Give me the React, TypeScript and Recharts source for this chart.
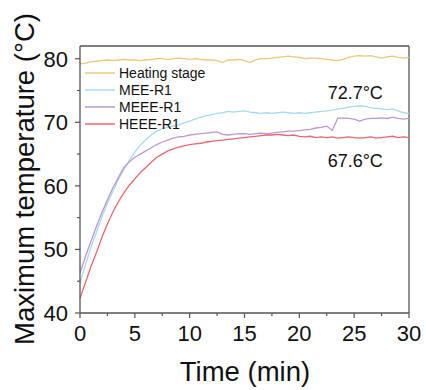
import React from 'react';
import { LineChart, Line, XAxis, YAxis, Legend, ReferenceLine, ReferenceDot } from 'recharts';

document.body.style.margin = '0';

const FONT = "Arial, 'Liberation Sans', sans-serif";

// time in minutes, one sample every half minute
const time = [
  0, 0.5, 1, 1.5, 2, 2.5, 3, 3.5, 4, 4.5, 5, 5.5, 6, 6.5, 7, 7.5, 8, 8.5, 9, 9.5,
  10, 10.5, 11, 11.5, 12, 12.5, 13, 13.5, 14, 14.5, 15, 15.5, 16, 16.5, 17, 17.5, 18, 18.5, 19, 19.5,
  20, 20.5, 21, 21.5, 22, 22.5, 23, 23.5, 24, 24.5, 25, 25.5, 26, 26.5, 27, 27.5, 28, 28.5, 29, 29.5, 30,
];

const heatingStage = [
  79.2, 79.3, 79.5, 79.6, 79.7, 79.8, 79.7, 79.8, 79.9, 79.8, 79.8, 79.7, 79.8, 79.9, 80.0, 80.0, 79.9, 80.0, 80.1, 80.0,
  79.9, 80.0, 79.9, 79.8, 79.8, 79.7, 79.4, 79.8, 79.8, 79.9, 79.7, 79.4, 79.8, 80.0, 80.0, 80.1, 80.2, 80.3, 80.4, 80.3,
  80.2, 80.0, 80.1, 80.1, 80.0, 79.9, 79.8, 79.7, 79.9, 80.2, 80.4, 80.5, 80.4, 80.5, 80.3, 80.1, 80.3, 80.4, 80.2, 80.1, 80.2,
];

const meeR1 = [
  44.7, 47.6, 50.3, 52.7, 55.1, 57.3, 59.1, 61.0, 62.6, 64.0, 65.3, 66.4, 67.3, 68.0, 68.6, 69.0, 69.2, 69.4, 69.6, 69.9,
  70.2, 70.5, 70.8, 71.0, 71.2, 71.4, 71.5, 71.7, 71.6, 71.7, 71.8, 71.6, 71.5, 71.4, 71.5, 71.4, 71.5, 71.6, 71.5, 71.4,
  71.5, 71.4, 71.5, 71.6, 71.7, 71.8, 71.9, 72.1, 72.2, 72.4, 72.5, 72.6, 72.5, 72.3, 72.2, 72.1, 72.0, 72.1, 71.8, 71.5, 71.4,
];

const meeeR1 = [
  46.3, 48.9, 51.3, 53.6, 55.8, 57.8, 59.7, 61.3, 62.9, 63.8, 64.5, 65.0, 65.5, 66.0, 66.5, 66.9, 67.2, 67.5, 67.7, 67.8,
  68.0, 68.1, 68.2, 68.3, 68.4, 68.5, 68.1, 68.0, 68.1, 68.2, 68.2, 68.1, 68.2, 68.3, 68.2, 68.3, 68.4, 68.5, 68.6, 68.6,
  68.7, 68.8, 68.9, 69.1, 69.2, 69.4, 68.7, 70.6, 70.7, 70.6, 70.5, 70.2, 70.5, 70.6, 70.6, 70.7, 70.6, 70.8, 70.6, 70.5, 70.6,
];

const heeeR1 = [
  42.3, 44.8, 47.3, 49.5, 51.9, 54.0, 55.9, 57.5, 58.9, 60.1, 61.1, 62.1, 62.9, 63.7, 64.5, 65.0, 65.5, 65.8, 66.1, 66.3,
  66.5, 66.6, 66.7, 66.9, 67.0, 67.1, 67.2, 67.3, 67.4, 67.5, 67.6, 67.7, 67.8, 67.9, 68.0, 68.0, 68.1, 68.0, 67.9, 68.0,
  67.8, 67.7, 67.8, 67.6, 67.7, 67.6, 67.7, 67.5, 67.6, 67.7, 67.6, 67.5, 67.6, 67.7, 67.5, 67.6, 67.7, 67.8, 67.6, 67.7, 67.6,
];

const xTicks = [0, 2.5, 5, 7.5, 10, 12.5, 15, 17.5, 20, 22.5, 25, 27.5, 30];
const yTicks = [40, 45, 50, 55, 60, 65, 70, 75, 80];

const series = [
  { key: 'heating', name: 'Heating stage', color: '#EFC879' },
  { key: 'mee', name: 'MEE-R1', color: '#A8DAF0' },
  { key: 'meee', name: 'MEEE-R1', color: '#BC98D2' },
  { key: 'heee', name: 'HEEE-R1', color: '#E8676C' },
];

const data = time.map((t, i) => ({
  t,
  heating: heatingStage[i],
  mee: meeR1[i],
  meee: meeeR1[i],
  heee: heeeR1[i],
}));

const AXIS_COLOR = '#555';
const TICK_SIZE = 5;
const TICK_MARGIN = 7;

const XTick = ({ x, y, payload }: any) => {
  const major = payload.value % 5 === 0;
  const y0 = y - TICK_SIZE - TICK_MARGIN;
  return (
    <g>
      <line x1={x} x2={x} y1={y0} y2={y0 + (major ? 5 : 3)} stroke={AXIS_COLOR} strokeWidth={1.2} />
      {major && (
        <text x={x} y={y} dy="0.72em" textAnchor="middle" fontSize={22} fontFamily={FONT} fill="#111">
          {payload.value}
        </text>
      )}
    </g>
  );
};

const YTick = ({ x, y, payload }: any) => {
  const major = payload.value % 10 === 0;
  const x0 = x + TICK_SIZE + TICK_MARGIN;
  return (
    <g>
      <line x1={x0} x2={x0 - (major ? 5 : 3)} y1={y} y2={y} stroke={AXIS_COLOR} strokeWidth={1.2} />
      {major && (
        <text x={x} y={y} dy="0.36em" textAnchor="end" fontSize={22} fontFamily={FONT} fill="#111">
          {payload.value}
        </text>
      )}
    </g>
  );
};

const renderLegend = () => (
  <div style={{ fontFamily: FONT, fontSize: 14, color: '#111' }}>
    {series.map(s => (
      <div key={s.key} style={{ display: 'flex', alignItems: 'center', height: 17 }}>
        <svg width={34} height={4} style={{ marginRight: 1 }}>
          <line x1={1} x2={31} y1={2} y2={2} stroke={s.color} strokeWidth={1.5} />
        </svg>
        <span>{s.name}</span>
      </div>
    ))}
  </div>
);

export default function App() {
  return (
    <LineChart width={426} height={390} data={data} margin={{ top: 46, right: 17, left: 0, bottom: 0 }}>
      <XAxis
        dataKey="t"
        type="number"
        domain={[0, 30]}
        ticks={xTicks}
        interval={0}
        height={77}
        tickSize={TICK_SIZE}
        tickMargin={TICK_MARGIN}
        tickLine={false}
        tick={<XTick />}
        stroke={AXIS_COLOR}
        strokeWidth={1.3}
        label={{
          content: () => (
            <text x={245} y={381} textAnchor="middle" fontSize={27.5} fontFamily={FONT} fill="#111">
              Time (min)
            </text>
          ),
        }}
      />
      <YAxis
        type="number"
        domain={[40, 82]}
        ticks={yTicks}
        interval={0}
        width={80}
        tickSize={TICK_SIZE}
        tickMargin={TICK_MARGIN}
        tickLine={false}
        tick={<YTick />}
        stroke={AXIS_COLOR}
        strokeWidth={1.3}
        allowDataOverflow
        label={{
          content: () => (
            <text
              x={24}
              y={179}
              transform="rotate(-90 24 179)"
              textAnchor="middle"
              dominantBaseline="central"
              fontSize={27.5}
              fontFamily={FONT}
              fill="#111"
            >
              Maximum temperature (°C)
            </text>
          ),
        }}
      />
      {/* box frame */}
      <ReferenceLine y={82} stroke={AXIS_COLOR} strokeWidth={1.3} />
      <ReferenceLine x={30} stroke={AXIS_COLOR} strokeWidth={1.3} />

      {series.map(s => (
        <Line
          key={s.key}
          dataKey={s.key}
          name={s.name}
          stroke={s.color}
          strokeWidth={1.3}
          dot={false}
          type="linear"
          isAnimationActive={false}
        />
      ))}

      <ReferenceDot x={25.1} y={74.7} r={0} fill="none" stroke="none"
        label={{ value: '72.7°C', position: 'center', fontSize: 18, fontFamily: FONT, fill: '#111' }} />
      <ReferenceDot x={25.1} y={64.0} r={0} fill="none" stroke="none"
        label={{ value: '67.6°C', position: 'center', fontSize: 18, fontFamily: FONT, fill: '#111' }} />

      <Legend
        layout="vertical"
        align="center"
        verticalAlign="middle"
        content={renderLegend}
        wrapperStyle={{ top: 64, left: 84, width: 'auto' }}
      />
    </LineChart>
  );
}
